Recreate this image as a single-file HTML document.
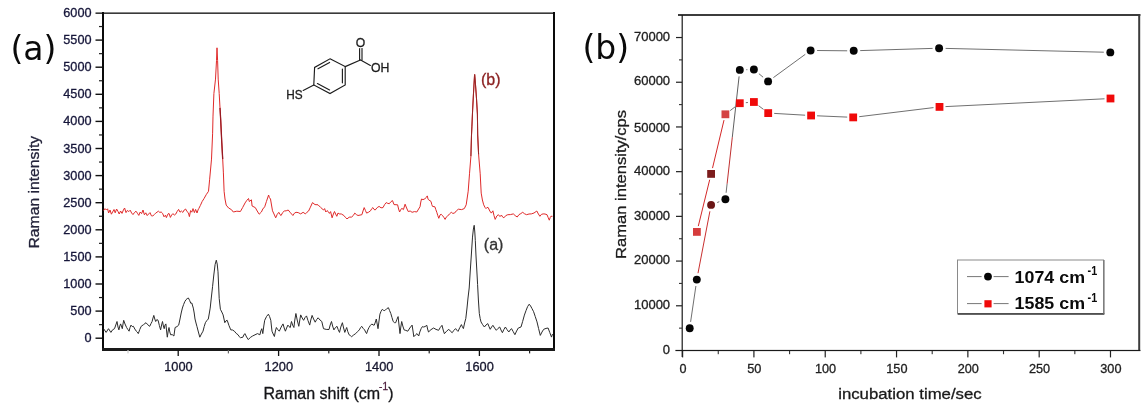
<!DOCTYPE html>
<html lang="en">
<head>
<meta charset="utf-8">
<title>Raman spectra and incubation time figure</title>
<style>
html,body{margin:0;padding:0;background:#fff;}
body{width:1148px;height:413px;overflow:hidden;}
svg{display:block;}
svg text{font-family:"Liberation Sans", sans-serif;}
</style>
</head>
<body>
<svg width="1148" height="413" viewBox="0 0 1148 413">
<rect width="1148" height="413" fill="#ffffff"/>
<g id="panel-a">
<rect x="102" y="12" width="2" height="339" fill="#0a0a0a"/>
<rect x="553" y="12" width="2" height="339" fill="#0a0a0a"/>
<rect x="102" y="348" width="453" height="3" fill="#1a1a1a"/>
<rect x="95.5" y="12.5" width="459" height="1.3" fill="#0a0a0a"/>
<rect x="95.5" y="337.50" width="7" height="1.4" fill="#111"/>
<text stroke="#16163a" stroke-width="0.3" x="91.5" y="342.2" text-anchor="end" font-size="12.7" fill="#16163a">0</text>
<rect x="99" y="324.05" width="3.4" height="1.2" fill="#222"/>
<rect x="95.5" y="310.40" width="7" height="1.4" fill="#111"/>
<text stroke="#16163a" stroke-width="0.3" x="91.5" y="315.1" text-anchor="end" font-size="12.7" fill="#16163a">500</text>
<rect x="99" y="296.95" width="3.4" height="1.2" fill="#222"/>
<rect x="95.5" y="283.30" width="7" height="1.4" fill="#111"/>
<text stroke="#16163a" stroke-width="0.3" x="91.5" y="288.0" text-anchor="end" font-size="12.7" fill="#16163a">1000</text>
<rect x="99" y="269.85" width="3.4" height="1.2" fill="#222"/>
<rect x="95.5" y="256.20" width="7" height="1.4" fill="#111"/>
<text stroke="#16163a" stroke-width="0.3" x="91.5" y="260.9" text-anchor="end" font-size="12.7" fill="#16163a">1500</text>
<rect x="99" y="242.75" width="3.4" height="1.2" fill="#222"/>
<rect x="95.5" y="229.10" width="7" height="1.4" fill="#111"/>
<text stroke="#16163a" stroke-width="0.3" x="91.5" y="233.8" text-anchor="end" font-size="12.7" fill="#16163a">2000</text>
<rect x="99" y="215.65" width="3.4" height="1.2" fill="#222"/>
<rect x="95.5" y="202.00" width="7" height="1.4" fill="#111"/>
<text stroke="#16163a" stroke-width="0.3" x="91.5" y="206.7" text-anchor="end" font-size="12.7" fill="#16163a">2500</text>
<rect x="99" y="188.55" width="3.4" height="1.2" fill="#222"/>
<rect x="95.5" y="174.90" width="7" height="1.4" fill="#111"/>
<text stroke="#16163a" stroke-width="0.3" x="91.5" y="179.6" text-anchor="end" font-size="12.7" fill="#16163a">3000</text>
<rect x="99" y="161.45" width="3.4" height="1.2" fill="#222"/>
<rect x="95.5" y="147.80" width="7" height="1.4" fill="#111"/>
<text stroke="#16163a" stroke-width="0.3" x="91.5" y="152.5" text-anchor="end" font-size="12.7" fill="#16163a">3500</text>
<rect x="99" y="134.35" width="3.4" height="1.2" fill="#222"/>
<rect x="95.5" y="120.70" width="7" height="1.4" fill="#111"/>
<text stroke="#16163a" stroke-width="0.3" x="91.5" y="125.4" text-anchor="end" font-size="12.7" fill="#16163a">4000</text>
<rect x="99" y="107.25" width="3.4" height="1.2" fill="#222"/>
<rect x="95.5" y="93.60" width="7" height="1.4" fill="#111"/>
<text stroke="#16163a" stroke-width="0.3" x="91.5" y="98.3" text-anchor="end" font-size="12.7" fill="#16163a">4500</text>
<rect x="99" y="80.15" width="3.4" height="1.2" fill="#222"/>
<rect x="95.5" y="66.50" width="7" height="1.4" fill="#111"/>
<text stroke="#16163a" stroke-width="0.3" x="91.5" y="71.2" text-anchor="end" font-size="12.7" fill="#16163a">5000</text>
<rect x="99" y="53.05" width="3.4" height="1.2" fill="#222"/>
<rect x="95.5" y="39.40" width="7" height="1.4" fill="#111"/>
<text stroke="#16163a" stroke-width="0.3" x="91.5" y="44.1" text-anchor="end" font-size="12.7" fill="#16163a">5500</text>
<rect x="99" y="25.95" width="3.4" height="1.2" fill="#222"/>
<text stroke="#16163a" stroke-width="0.3" x="91.5" y="17.0" text-anchor="end" font-size="12.7" fill="#16163a">6000</text>
<rect x="127.40" y="350" width="1.2" height="3.4" fill="#ccc"/>
<rect x="177.55" y="350" width="1.3" height="6" fill="#111"/>
<text stroke="#16162e" stroke-width="0.3" x="178.4" y="370.5" text-anchor="middle" font-size="12.8" fill="#16162e">1000</text>
<rect x="227.80" y="350" width="1.2" height="3.4" fill="#666"/>
<rect x="277.95" y="350" width="1.3" height="6" fill="#111"/>
<text stroke="#16162e" stroke-width="0.3" x="278.8" y="370.5" text-anchor="middle" font-size="12.8" fill="#16162e">1200</text>
<rect x="328.20" y="350" width="1.2" height="3.4" fill="#222"/>
<rect x="378.35" y="350" width="1.3" height="6" fill="#111"/>
<text stroke="#16162e" stroke-width="0.3" x="379.2" y="370.5" text-anchor="middle" font-size="12.8" fill="#16162e">1400</text>
<rect x="428.60" y="350" width="1.2" height="3.4" fill="#222"/>
<rect x="478.75" y="350" width="1.3" height="6" fill="#111"/>
<text stroke="#16162e" stroke-width="0.3" x="479.6" y="370.5" text-anchor="middle" font-size="12.8" fill="#16162e">1600</text>
<rect x="529.00" y="350" width="1.2" height="3.4" fill="#222"/>
<polyline fill="none" stroke="#e02a2a" stroke-width="1.0" stroke-linejoin="round"  points="103.6,210.5 105.0,208.6 106.4,210.0 107.6,208.8 108.6,213.0 110.0,210.0 111.4,214.2 112.6,212.0 114.0,209.5 115.2,212.8 116.6,209.0 118.0,211.5 119.2,214.0 120.6,211.0 122.0,213.4 123.4,210.0 124.6,208.0 126.0,212.6 127.4,210.4 128.8,211.6 130.2,210.2 131.6,213.0 133.0,214.6 134.4,212.6 136.0,211.2 137.4,213.2 138.8,215.4 140.2,212.0 141.6,213.6 143.0,210.0 144.4,214.8 145.8,212.8 147.2,215.6 148.6,214.0 150.0,212.6 151.4,215.8 152.8,216.0 154.2,214.6 155.6,213.2 157.0,212.2 158.4,211.2 159.8,212.4 161.2,212.0 162.6,213.4 164.0,216.8 165.4,215.2 166.4,217.6 167.8,214.2 169.0,213.4 170.4,217.4 171.6,215.0 173.0,213.6 174.4,215.2 175.8,214.0 177.2,211.4 178.6,209.4 180.0,212.2 181.4,211.0 182.8,212.4 184.2,210.0 185.6,209.0 187.0,211.6 188.4,212.8 189.4,216.6 190.6,210.6 191.8,212.2 193.0,208.6 194.4,212.6 195.6,209.4 197.0,213.0 198.4,209.0 198.8,208.5 200.4,205.4 202.1,201.6 204.0,198.6 206.2,194.7 208.5,191.3 209.6,179.8 210.6,169.0 211.5,159.1 212.6,133.8 213.0,116.1 213.9,93.5 215.5,79.1 216.5,60.6 217.0,47.8 217.6,60.6 218.2,79.1 219.2,93.5 220.0,107.9 220.7,120.0 221.8,143.0 222.7,159.1 223.4,172.9 224.1,191.3 225.0,199.0 226.2,205.1 228.6,208.0 231.5,209.7 233.3,212.0 236.8,211.2 240.4,211.5 242.6,207.6 245.1,202.9 246.8,200.4 248.5,198.5 249.3,201.5 251.4,199.8 252.1,206.0 255.3,207.6 257.2,211.0 259.2,214.2 261.4,212.0 262.8,209.0 264.7,206.8 266.4,201.6 268.6,195.0 269.4,197.6 270.5,199.0 271.5,205.0 272.5,210.8 274.0,214.0 275.7,217.8 277.2,214.4 278.8,212.3 280.0,214.6 281.1,215.5 282.6,212.6 284.3,211.0 286.2,210.8 288.2,210.0 290.5,212.8 292.9,215.5 294.4,213.2 296.0,212.3 298.2,212.6 300.7,213.9 303.1,212.3 305.4,213.9 307.0,212.2 308.6,211.0 310.4,207.2 312.5,202.6 315.0,204.6 318.0,204.8 320.6,207.4 323.5,210.0 324.6,208.6 325.8,212.0 327.0,210.6 328.2,211.5 329.4,213.4 330.6,211.6 332.1,217.8 333.4,214.0 334.5,211.5 335.6,214.0 336.8,216.3 338.0,213.0 339.2,213.9 341.4,214.0 343.9,215.5 345.4,217.4 347.0,218.9 349.2,217.2 351.7,217.0 353.2,215.6 354.8,213.1 356.4,214.6 358.0,215.5 361.9,214.7 363.0,211.0 364.2,207.6 365.4,210.4 366.6,213.1 368.6,212.2 370.5,210.8 371.8,208.6 372.9,207.6 374.0,209.4 375.2,210.0 377.2,207.6 379.1,206.4 381.0,207.8 383.0,207.6 384.6,204.6 386.2,202.6 387.8,203.4 389.3,203.7 391.0,201.6 392.5,200.6 394.0,204.6 397.6,204.8 398.6,209.0 399.6,212.0 400.8,209.4 402.0,208.4 403.4,209.6 405.1,204.2 406.6,208.0 408.2,211.5 410.2,211.0 412.1,212.3 414.4,211.6 416.8,212.0 418.6,209.0 420.0,206.8 420.8,202.0 421.5,199.0 423.0,199.6 424.7,199.0 426.0,197.6 427.3,195.9 428.0,199.0 428.6,199.8 431.0,201.4 431.8,204.6 432.5,206.4 434.9,206.8 435.8,209.6 436.8,212.3 437.8,215.6 438.8,218.3 440.0,215.0 441.1,214.2 442.7,215.8 444.0,217.6 445.1,219.4 446.2,217.2 447.4,216.3 449.4,214.0 451.3,212.3 452.8,213.4 454.5,213.1 456.4,210.8 458.4,209.2 461.6,209.6 464.3,208.6 466.2,204.8 467.2,198.0 468.2,191.2 469.5,173.8 470.9,156.3 471.5,135.0 471.9,126.8 472.6,110.5 473.5,93.2 474.5,75.9 474.7,74.6 475.4,83.2 476.5,98.6 477.4,114.0 477.7,135.0 478.6,154.4 480.2,173.8 481.2,193.1 482.4,200.0 483.7,204.8 485.0,207.4 486.0,208.6 487.0,207.4 488.2,207.6 489.8,211.0 491.3,213.1 492.9,210.8 494.0,215.6 495.2,219.4 496.8,216.0 498.4,214.7 500.0,216.6 501.4,215.0 502.6,217.0 503.9,217.8 505.8,215.6 507.8,214.7 510.4,214.6 513.3,213.9 515.2,215.6 517.2,217.0 519.0,214.6 520.8,213.6 522.7,212.3 524.6,213.8 526.6,214.7 529.0,214.0 531.3,213.9 534.0,213.0 536.8,211.0 538.4,214.0 539.9,216.3 541.4,214.4 543.1,213.9 545.0,214.0 547.0,214.7 548.2,217.6 549.3,220.2 550.2,217.6 550.9,216.3 552.5,216.3"/>
<polyline fill="none" stroke="#981a22" stroke-width="1.3" points="220,107.9 220.7,120 221.8,143 222.7,159.1"/>
<polyline fill="none" stroke="#982626" stroke-width="1.05" stroke-linejoin="round" points="470.9,156.3 471.5,135 471.9,126.8 472.6,110.5 473.5,93.2 474.5,75.9 474.7,74.6 475.4,83.2 476.5,98.6 477.4,114 477.7,135 478.6,154.4"/>
<polyline fill="none" stroke="#2c2c2c" stroke-width="1.0" stroke-linejoin="round"  points="103.6,328.7 106.1,332.4 108.5,328.7 110.9,332.4 112.6,329.8 114.5,328.7 115.8,325.0 117.0,321.5 118.0,327.0 118.9,329.9 119.8,326.0 120.6,323.9 121.4,326.0 122.3,328.7 123.0,324.0 123.7,320.3 125.0,324.0 126.6,327.5 127.8,329.4 129.1,331.2 130.0,327.6 131.0,325.1 132.2,326.6 133.4,326.3 134.8,329.0 136.3,331.2 137.2,332.0 138.3,333.6 139.8,329.4 141.2,326.3 143.6,324.6 146.0,322.7 147.8,324.8 149.7,326.3 151.0,323.6 152.1,321.5 153.0,318.0 153.8,315.4 154.8,319.0 155.7,321.5 156.8,319.6 158.1,320.3 159.4,325.6 160.6,329.9 161.6,325.0 162.5,321.5 163.4,326.0 164.2,328.7 165.0,325.0 165.9,323.9 166.6,331.0 167.3,337.2 168.2,331.0 169.0,327.5 169.8,332.0 170.7,334.8 172.2,334.6 173.9,336.0 174.6,331.0 175.1,327.5 177.0,326.6 178.7,325.1 180.0,319.0 181.2,313.0 182.4,308.0 183.6,304.5 184.8,301.6 186.0,299.7 187.2,298.6 188.4,298.0 189.6,300.4 190.8,303.3 191.8,303.0 193.3,308.1 194.2,313.0 195.0,319.0 196.0,323.0 196.9,326.3 198.4,332.0 199.8,337.2 201.4,334.0 203.0,331.2 204.2,326.6 205.4,322.7 206.8,320.6 208.3,319.0 209.2,314.0 210.2,308.1 211.4,297.0 212.6,286.3 213.8,275.0 215.1,264.5 216.3,260.2 217.2,264.0 218.0,271.8 218.6,285.0 219.2,298.4 219.8,304.0 220.4,309.3 221.8,312.0 223.1,314.9 224.0,319.0 224.8,322.7 226.0,320.8 227.2,320.3 229.0,325.6 230.8,329.9 232.6,330.0 234.4,331.2 236.2,333.4 238.1,334.8 239.2,336.6 240.5,337.7 242.9,337.2 243.8,335.0 244.9,333.6 246.6,337.0 248.3,339.6 250.4,337.4 252.6,336.0 255.0,334.8 257.5,333.6 259.9,334.8 260.8,331.0 261.8,328.7 262.8,333.6 263.8,326.0 264.7,320.3 266.6,316.4 268.4,314.2 269.6,316.6 270.8,320.3 271.4,326.0 272.0,331.2 273.2,334.0 274.4,336.5 275.4,331.0 276.4,327.5 277.8,329.6 279.3,331.2 281.2,327.0 283.0,323.9 284.2,328.0 285.4,331.2 286.6,328.0 287.9,325.1 289.0,326.6 290.3,327.5 290.9,324.0 291.5,321.5 292.6,325.0 293.9,327.5 294.8,320.0 295.9,313.5 297.2,320.0 298.8,326.3 299.8,320.0 300.7,314.9 302.2,318.0 303.6,320.3 305.0,317.6 306.5,315.9 308.0,320.6 309.7,325.1 310.8,320.0 312.1,315.4 313.6,319.0 315.2,322.2 316.6,319.6 318.1,317.8 320.0,320.0 321.8,321.5 322.6,325.0 323.5,328.7 326.2,329.4 329.0,329.5 330.2,325.0 331.5,321.5 332.6,326.0 333.9,329.9 335.4,327.6 337.0,326.3 338.2,329.6 339.5,332.4 340.8,327.0 342.4,322.7 343.6,328.0 344.8,332.4 345.8,329.6 346.7,327.5 347.8,331.6 349.1,334.8 350.4,335.6 351.6,336.7 353.6,335.0 355.7,333.6 357.6,331.6 359.3,329.9 360.6,327.6 361.7,326.3 363.2,328.4 364.6,329.9 365.6,332.0 366.6,333.6 367.8,330.0 369.0,327.5 370.4,325.4 371.9,323.9 373.0,325.0 374.3,325.1 375.4,322.0 376.3,319.0 377.2,324.0 378.0,328.7 379.0,321.0 379.9,314.2 381.0,311.4 382.3,309.3 383.6,310.4 384.8,310.6 386.6,308.8 388.4,307.7 389.6,310.6 390.8,313.5 392.0,317.6 393.2,321.5 394.4,322.6 395.7,322.7 396.8,319.6 398.1,316.6 399.0,325.0 400.0,333.6 400.8,327.0 401.7,321.5 402.8,326.0 404.1,329.9 405.8,330.4 407.8,331.2 409.8,328.0 412.1,325.1 413.0,331.0 413.8,336.7 415.4,335.0 417.0,333.6 418.7,336.0 419.8,332.0 421.1,328.7 422.4,326.6 423.4,327.0 425.0,326.6 426.8,325.3 427.6,329.0 428.5,332.0 431.0,329.6 433.6,328.0 436.0,329.4 438.6,330.3 440.2,327.6 442.0,325.3 443.2,330.0 444.4,333.7 446.6,331.2 448.8,329.3 450.4,331.2 452.2,332.7 453.8,330.4 455.6,328.6 456.8,330.2 458.0,331.4 459.8,327.6 461.4,324.6 462.4,326.8 463.4,328.6 464.6,323.0 465.8,318.5 467.0,308.0 468.0,298.0 469.2,288.0 470.2,272.0 471.4,254.0 472.5,237.1 473.4,229.0 474.2,225.3 474.8,232.0 475.3,240.5 476.0,256.0 476.8,270.0 477.6,284.6 478.4,300.0 479.3,313.4 480.2,318.6 481.0,321.9 482.6,324.6 484.4,327.0 486.0,325.0 487.8,323.6 489.0,326.6 490.2,329.3 491.6,327.0 492.9,325.3 494.6,328.0 496.3,330.3 498.0,328.4 499.7,327.0 501.0,330.0 502.4,332.7 503.8,329.6 505.4,327.0 507.0,329.6 508.8,332.0 510.2,330.0 511.5,328.6 513.2,331.6 514.9,334.7 516.6,331.0 518.3,328.0 521.0,327.0 522.6,321.6 524.4,315.1 526.0,310.6 527.6,306.6 529.2,304.2 530.6,306.0 532.0,308.6 533.6,311.7 535.2,316.4 537.0,321.9 538.6,328.6 540.3,335.4 542.0,332.0 543.7,329.3 546.0,328.4 548.1,328.0 549.8,332.6 551.5,337.1 552.5,334.0"/>
<text stroke="#8c2222" stroke-width="0.3" x="481" y="84.7" font-size="16" fill="#8c2222">(b)</text>
<text stroke="#333" stroke-width="0.3" x="483.8" y="249.6" font-size="16" fill="#333">(a)</text>
<text x="10.5" y="59.8" style="font-family:'DejaVu Sans',sans-serif" font-size="33" fill="#0a0a0a">(a)</text>
<text stroke="#23233a" stroke-width="0.3" transform="translate(39.0,248.5) rotate(-90)" font-size="15.4" fill="#23233a" textLength="112.6" lengthAdjust="spacingAndGlyphs">Raman intensity</text>
<text stroke="#151518" stroke-width="0.3" x="263.5" y="398.5" font-size="15.8" fill="#151518" textLength="116.6" lengthAdjust="spacingAndGlyphs">Raman shift (cm</text>
<text stroke="#4a1a3a" stroke-width="0.3" x="379.1" y="389.7" font-size="10" fill="#4a1a3a">-1</text>
<text stroke="#151518" stroke-width="0.3" x="388.2" y="398.5" font-size="15.8" fill="#151518">)</text>
<g stroke="#1c1c1c" stroke-width="1.15" fill="none" stroke-linecap="round">
<polygon points="330.0,58.8 345.2,66.6 345.2,85.0 330.0,93.6 313.8,85.0 314.6,67.4"/>
<line x1="318" y1="68.8" x2="329.6" y2="62.4"/>
<line x1="342.4" y1="69" x2="342.4" y2="82.8"/>
<line x1="317.4" y1="83.6" x2="329.6" y2="90"/>
<line x1="345.2" y1="66.6" x2="360.4" y2="60"/>
<line x1="359.6" y1="60" x2="359.6" y2="48.6"/>
<line x1="362" y1="60" x2="362" y2="48.6"/>
<line x1="360.6" y1="60" x2="370.4" y2="65.4"/>
<line x1="313.8" y1="85" x2="303.2" y2="90.4"/>
</g>
<text stroke="#1c1c1c" stroke-width="0.3" x="360.6" y="46.9" text-anchor="middle" font-size="12.2" fill="#1c1c1c">O</text>
<text stroke="#1c1c1c" stroke-width="0.3" x="371" y="72" font-size="12.2" fill="#1c1c1c" textLength="18.4" lengthAdjust="spacingAndGlyphs">OH</text>
<text stroke="#1c1c1c" stroke-width="0.3" x="286.2" y="98.8" font-size="12.2" fill="#1c1c1c" textLength="16.4" lengthAdjust="spacingAndGlyphs">HS</text>
</g>
<g id="panel-b">
<rect x="678" y="14" width="462.4" height="2" fill="#3c3c3c"/>
<rect x="1138.2" y="14" width="2" height="337" fill="#3c3c3c"/>
<rect x="681.6" y="15" width="1.2" height="342" fill="#1a1a1a"/>
<rect x="675.4" y="349.9" width="465" height="1.2" fill="#1a1a1a"/>
<text stroke="#202020" stroke-width="0.3" x="670.1" y="353.7" text-anchor="end" font-size="13" fill="#202020">0</text>
<rect x="679" y="327.59" width="3" height="1.1" fill="#333"/>
<rect x="676" y="305.19" width="6" height="1.2" fill="#222"/>
<text stroke="#202020" stroke-width="0.3" x="670.1" y="309.0" text-anchor="end" font-size="13" fill="#202020">10000</text>
<rect x="679" y="282.88" width="3" height="1.1" fill="#333"/>
<rect x="676" y="260.48" width="6" height="1.2" fill="#222"/>
<text stroke="#202020" stroke-width="0.3" x="670.1" y="264.3" text-anchor="end" font-size="13" fill="#202020">20000</text>
<rect x="679" y="238.17" width="3" height="1.1" fill="#333"/>
<rect x="676" y="215.77" width="6" height="1.2" fill="#222"/>
<text stroke="#202020" stroke-width="0.3" x="670.1" y="219.6" text-anchor="end" font-size="13" fill="#202020">30000</text>
<rect x="679" y="193.46" width="3" height="1.1" fill="#333"/>
<rect x="676" y="171.06" width="6" height="1.2" fill="#222"/>
<text stroke="#202020" stroke-width="0.3" x="670.1" y="174.9" text-anchor="end" font-size="13" fill="#202020">40000</text>
<rect x="679" y="148.75" width="3" height="1.1" fill="#333"/>
<rect x="676" y="126.35" width="6" height="1.2" fill="#222"/>
<text stroke="#202020" stroke-width="0.3" x="670.1" y="131.5" text-anchor="end" font-size="13" fill="#202020">50000</text>
<rect x="679" y="104.05" width="3" height="1.1" fill="#333"/>
<rect x="676" y="81.64" width="6" height="1.2" fill="#222"/>
<text stroke="#202020" stroke-width="0.3" x="670.1" y="85.4" text-anchor="end" font-size="13" fill="#202020">60000</text>
<rect x="679" y="59.33" width="3" height="1.1" fill="#333"/>
<rect x="676" y="36.93" width="6" height="1.2" fill="#222"/>
<text stroke="#202020" stroke-width="0.3" x="670.1" y="40.7" text-anchor="end" font-size="13" fill="#202020">70000</text>
<rect x="682.00" y="351" width="1.2" height="6.4" fill="#222"/>
<text stroke="#202020" stroke-width="0.3" x="683.0" y="372.6" text-anchor="middle" font-size="13" fill="#202020" textLength="7.0" lengthAdjust="spacingAndGlyphs">0</text>
<rect x="717.71" y="351" width="1.1" height="3.2" fill="#333"/>
<rect x="753.31" y="351" width="1.2" height="6.4" fill="#222"/>
<text stroke="#202020" stroke-width="0.3" x="754.3" y="372.6" text-anchor="middle" font-size="13" fill="#202020" textLength="14.2" lengthAdjust="spacingAndGlyphs">50</text>
<rect x="789.02" y="351" width="1.1" height="3.2" fill="#333"/>
<rect x="824.63" y="351" width="1.2" height="6.4" fill="#222"/>
<text stroke="#202020" stroke-width="0.3" x="825.6" y="372.6" text-anchor="middle" font-size="13" fill="#202020" textLength="21.2" lengthAdjust="spacingAndGlyphs">100</text>
<rect x="860.34" y="351" width="1.1" height="3.2" fill="#333"/>
<rect x="895.95" y="351" width="1.2" height="6.4" fill="#222"/>
<text stroke="#202020" stroke-width="0.3" x="896.9" y="372.6" text-anchor="middle" font-size="13" fill="#202020" textLength="21.2" lengthAdjust="spacingAndGlyphs">150</text>
<rect x="931.65" y="351" width="1.1" height="3.2" fill="#333"/>
<rect x="967.26" y="351" width="1.2" height="6.4" fill="#222"/>
<text stroke="#202020" stroke-width="0.3" x="968.3" y="372.6" text-anchor="middle" font-size="13" fill="#202020" textLength="21.2" lengthAdjust="spacingAndGlyphs">200</text>
<rect x="1002.97" y="351" width="1.1" height="3.2" fill="#333"/>
<rect x="1038.58" y="351" width="1.2" height="6.4" fill="#222"/>
<text stroke="#202020" stroke-width="0.3" x="1039.6" y="372.6" text-anchor="middle" font-size="13" fill="#202020" textLength="21.2" lengthAdjust="spacingAndGlyphs">250</text>
<rect x="1074.28" y="351" width="1.1" height="3.2" fill="#333"/>
<rect x="1109.89" y="351" width="1.2" height="6.4" fill="#222"/>
<text stroke="#202020" stroke-width="0.3" x="1110.9" y="372.6" text-anchor="middle" font-size="13" fill="#202020" textLength="21.2" lengthAdjust="spacingAndGlyphs">300</text>
<line x1="690.6" y1="321.9" x2="695.9" y2="286.0" stroke="#707070" stroke-width="1.0"/>
<line x1="698.0" y1="273.2" x2="709.9" y2="211.3" stroke="#c83030" stroke-width="1.0"/>
<line x1="717.2" y1="202.5" x2="719.3" y2="201.7" stroke="#707070" stroke-width="1.0"/>
<line x1="746.3" y1="69.7" x2="747.4" y2="69.7" stroke="#707070" stroke-width="1.0"/>
<line x1="758.9" y1="73.7" x2="763.1" y2="77.2" stroke="#707070" stroke-width="1.0"/>
<line x1="773.4" y1="77.6" x2="805.3" y2="54.3" stroke="#707070" stroke-width="1.0"/>
<line x1="817.1" y1="50.5" x2="847.2" y2="50.8" stroke="#707070" stroke-width="1.0"/>
<line x1="860.2" y1="50.6" x2="932.6" y2="48.4" stroke="#707070" stroke-width="1.0"/>
<line x1="945.6" y1="48.4" x2="1103.8" y2="52.2" stroke="#707070" stroke-width="1.0"/>
<line x1="726.1" y1="192.8" x2="727.1" y2="183.8" stroke="#707070" stroke-width="1"/>
<line x1="727.1" y1="183.8" x2="732.3" y2="137.2" stroke="#c03030" stroke-width="1"/>
<line x1="732.3" y1="137.2" x2="739.1" y2="76.4" stroke="#606060" stroke-width="1"/>
<line x1="698.3" y1="226.1" x2="709.7" y2="179.7" stroke="#d42828" stroke-width="1.0"/>
<line x1="712.5" y1="168.1" x2="724.0" y2="120.1" stroke="#d42828" stroke-width="1.0"/>
<line x1="730.2" y1="110.6" x2="735.0" y2="106.9" stroke="#707070" stroke-width="1.0"/>
<line x1="745.8" y1="102.7" x2="747.9" y2="102.5" stroke="#707070" stroke-width="1.0"/>
<line x1="758.6" y1="105.7" x2="763.5" y2="109.4" stroke="#707070" stroke-width="1.0"/>
<line x1="774.2" y1="113.4" x2="805.1" y2="115.2" stroke="#707070" stroke-width="1.0"/>
<line x1="817.1" y1="115.8" x2="847.2" y2="117.1" stroke="#707070" stroke-width="1.0"/>
<line x1="859.2" y1="116.7" x2="933.5" y2="107.6" stroke="#707070" stroke-width="1.0"/>
<line x1="945.5" y1="106.6" x2="1104.5" y2="98.8" stroke="#707070" stroke-width="1.0"/>
<circle cx="689.7" cy="328.3" r="3.95" fill="#050505"/>
<circle cx="696.8" cy="279.6" r="3.95" fill="#050505"/>
<circle cx="711.1" cy="204.9" r="3.95" fill="#6a1616"/>
<circle cx="725.4" cy="199.3" r="3.95" fill="#050505"/>
<circle cx="739.8" cy="69.9" r="3.95" fill="#050505"/>
<circle cx="753.9" cy="69.5" r="3.95" fill="#050505"/>
<circle cx="768.1" cy="81.4" r="3.95" fill="#050505"/>
<circle cx="810.6" cy="50.5" r="3.95" fill="#050505"/>
<circle cx="853.7" cy="50.8" r="3.95" fill="#050505"/>
<circle cx="939.1" cy="48.2" r="3.95" fill="#050505"/>
<circle cx="1110.3" cy="52.4" r="3.95" fill="#050505"/>
<rect x="693.0" y="228.0" width="7.8" height="7.8" fill="#d63c3c"/>
<rect x="707.2" y="170.0" width="7.8" height="7.8" fill="#7c1c1c"/>
<rect x="721.5" y="110.4" width="7.8" height="7.8" fill="#d44444"/>
<rect x="735.9" y="99.3" width="7.8" height="7.8" fill="#f00a0a"/>
<rect x="750.0" y="98.1" width="7.8" height="7.8" fill="#f00a0a"/>
<rect x="764.3" y="109.2" width="7.8" height="7.8" fill="#f00a0a"/>
<rect x="807.2" y="111.6" width="7.8" height="7.8" fill="#f00a0a"/>
<rect x="849.3" y="113.5" width="7.8" height="7.8" fill="#f00a0a"/>
<rect x="935.6" y="103.0" width="7.8" height="7.8" fill="#f00a0a"/>
<rect x="1106.6" y="94.6" width="7.8" height="7.8" fill="#f00a0a"/>
<rect x="957.5" y="260" width="146" height="54" fill="#fff" stroke="#8a8a8a" stroke-width="1"/>
<rect x="958" y="313" width="146.4" height="1.8" fill="#505050"/>
<rect x="1103.4" y="260" width="1.2" height="54" fill="#777"/>
<line x1="967" y1="276.6" x2="981.6" y2="276.6" stroke="#777" stroke-width="1"/>
<line x1="993.6" y1="276.6" x2="1008.6" y2="276.6" stroke="#777" stroke-width="1"/>
<line x1="967" y1="303.6" x2="981.6" y2="303.6" stroke="#777" stroke-width="1"/>
<line x1="993.6" y1="303.6" x2="1008.6" y2="303.6" stroke="#777" stroke-width="1"/>
<circle cx="988" cy="276.6" r="3.9" fill="#050505"/>
<rect x="984.4" y="300.2" width="7.2" height="7.2" fill="#f00a0a"/>
<text x="1014.6" y="282.6" font-size="17.2" font-weight="bold" fill="#0a0a0a" textLength="70.4" lengthAdjust="spacingAndGlyphs">1074 cm</text>
<text x="1087.6" y="274.9" font-size="12.8" font-weight="bold" fill="#0a0a0a" textLength="9.6" lengthAdjust="spacingAndGlyphs">-1</text>
<text x="1014.6" y="309.4" font-size="17.2" font-weight="bold" fill="#0a0a0a" textLength="70.4" lengthAdjust="spacingAndGlyphs">1585 cm</text>
<text x="1087.6" y="301.7" font-size="12.8" font-weight="bold" fill="#0a0a0a" textLength="9.6" lengthAdjust="spacingAndGlyphs">-1</text>
<text x="582.5" y="59.2" style="font-family:'DejaVu Sans',sans-serif" font-size="33" fill="#0a0a0a">(b)</text>
<text stroke="#1e1e1e" stroke-width="0.3" transform="translate(626.0,258.9) rotate(-90)" font-size="15.3" fill="#1e1e1e" textLength="149" lengthAdjust="spacingAndGlyphs">Raman intensity/cps</text>
<text stroke="#1a1a1a" stroke-width="0.3" x="838.2" y="398.7" font-size="15.5" fill="#1a1a1a" textLength="143.5" lengthAdjust="spacingAndGlyphs">incubation time/sec</text>
</g>
</svg>
</body>
</html>
